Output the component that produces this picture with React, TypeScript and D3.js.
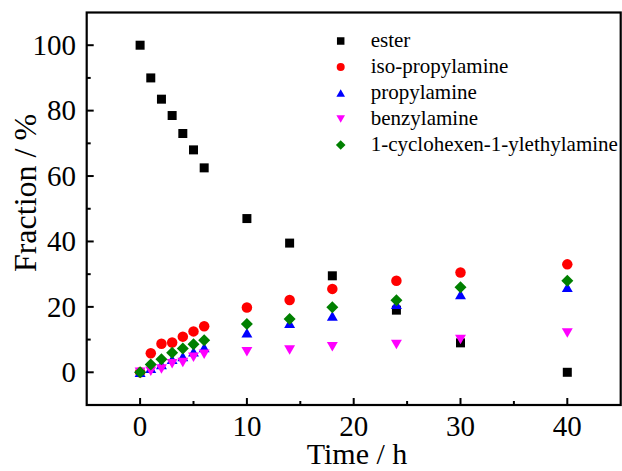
import React from "react";
import * as d3 from "d3";

const times = [0, 1, 2, 3, 4, 5, 6, 10, 14, 18, 24, 30, 40];
const ester = [100, 90, 83.5, 78.5, 73, 68, 62.5, 47, 39.5, 29.5, 19, 9, 0];
const isoPropylamine = [0, 5.8, 8.7, 9.1, 10.9, 12.5, 14.1, 19.8, 22.1, 25.5, 28.0, 30.5, 33.0];
const propylamine = [0, 1.2, 2.4, 4.0, 4.8, 6.3, 7.6, 12.1, 15.0, 17.2, 20.8, 23.8, 26.0];
const benzylamine = [0, 0.3, 1.0, 2.6, 3.0, 4.6, 5.5, 6.3, 6.8, 7.8, 8.5, 10.0, 12.0];
const cyclohexenylethylamine = [0, 2.4, 4.0, 6.0, 7.3, 8.6, 9.8, 14.8, 16.3, 19.9, 22.0, 26.0, 28.0];

const seriesNames = ["ester", "iso-propylamine", "propylamine", "benzylamine", "1-cyclohexen-1-ylethylamine"];
const seriesValues = [ester, isoPropylamine, propylamine, benzylamine, cyclohexenylethylamine];
const seriesColors = ["#000000", "#ff0000", "#0000ff", "#ff00ff", "#008000"];
const seriesShapes = ["square", "circle", "up", "down", "diamond"];

const xMajorTicks = [0, 10, 20, 30, 40];
const xMinorTicks = [5, 15, 25, 35];
const yMajorTicks = [0, 20, 40, 60, 80, 100];
const yMinorTicks = [10, 30, 50, 70, 90];

const W = 622;
const H = 471;
const left = 86.7;
const right = 620.7;
const top = 12.5;
const bottom = 405;

const x = d3.scaleLinear().domain([-5, 45]).range([left, right]);
const y = d3.scaleLinear().domain([-10, 110]).range([bottom, top]);

function markerPath(shape: string, s: number): string {
  const p = d3.path();
  if (shape === "square") {
    p.rect(-s / 2, -s / 2, s, s);
  } else if (shape === "circle") {
    p.arc(0, 0, s / 2, 0, Math.PI * 2);
  } else if (shape === "up") {
    const w = s * 1.15, h = s;
    p.moveTo(0, -h / 2);
    p.lineTo(w / 2, h / 2);
    p.lineTo(-w / 2, h / 2);
    p.closePath();
  } else if (shape === "down") {
    const w = s * 1.15, h = s;
    p.moveTo(0, h / 2);
    p.lineTo(w / 2, -h / 2);
    p.lineTo(-w / 2, -h / 2);
    p.closePath();
  } else {
    const r = s * 0.6;
    p.moveTo(0, -r);
    p.lineTo(r, 0);
    p.lineTo(0, r);
    p.lineTo(-r, 0);
    p.closePath();
  }
  return p.toString();
}

const dataSize: Record<string, number> = { square: 9, circle: 10.5, up: 9.5, down: 9.5, diamond: 10 };
const legendSize: Record<string, number> = { square: 7.5, circle: 8, up: 7.5, down: 7.5, diamond: 8 };

const font = "'Liberation Serif', 'Times New Roman', serif";

export default function App() {
  return (
    <svg
      width={W}
      height={H}
      style={{ position: "absolute", left: 0, top: 0, background: "#fff" }}
      fontFamily={font}
    >
      <rect x={0} y={0} width={W} height={H} fill="#fff" />
      {xMajorTicks.map((t) => (
        <line key={"xM" + t} x1={x(t)} x2={x(t)} y1={bottom} y2={bottom - 7} stroke="#000" strokeWidth={2} />
      ))}
      {xMinorTicks.map((t) => (
        <line key={"xm" + t} x1={x(t)} x2={x(t)} y1={bottom} y2={bottom - 4} stroke="#000" strokeWidth={2} />
      ))}
      {yMajorTicks.map((t) => (
        <line key={"yM" + t} x1={left} x2={left + 7} y1={y(t)} y2={y(t)} stroke="#000" strokeWidth={2} />
      ))}
      {yMinorTicks.map((t) => (
        <line key={"ym" + t} x1={left} x2={left + 4} y1={y(t)} y2={y(t)} stroke="#000" strokeWidth={2} />
      ))}
      {xMajorTicks.map((t) => (
        <text key={"xl" + t} x={x(t)} y={436} textAnchor="middle" fontSize={29} fill="#000">
          {t}
        </text>
      ))}
      {yMajorTicks.map((t) => (
        <text key={"yl" + t} x={76} y={y(t)} dy="0.34em" textAnchor="end" fontSize={29} fill="#000">
          {t}
        </text>
      ))}
      <text x={357} y={463.5} textAnchor="middle" fontSize={30} fill="#000">
        Time / h
      </text>
      <text transform={`translate(36,193) rotate(-90)`} textAnchor="middle" fontSize={32} fill="#000">
        Fraction / %
      </text>
      {seriesValues.map((vals, si) => (
        <g key={"s" + si} fill={seriesColors[si]}>
          {vals.map((v, i) => (
            <path
              key={i}
              d={markerPath(seriesShapes[si], dataSize[seriesShapes[si]])}
              transform={`translate(${x(times[i])},${y(v)})`}
            />
          ))}
        </g>
      ))}
      {seriesNames.map((name, i) => {
        const ly = 39 + i * 26;
        return (
          <g key={"lg" + i}>
            <path
              d={markerPath(seriesShapes[i], legendSize[seriesShapes[i]])}
              transform={`translate(340.7,${ly + 2})`}
              fill={seriesColors[i]}
            />
            <text x={370.7} y={ly} dy="0.36em" fontSize={21} fill="#000">
              {name}
            </text>
          </g>
        );
      })}
      <rect x={left} y={top} width={right - left} height={bottom - top} fill="none" stroke="#000" strokeWidth={2.2} />
    </svg>
  );
}
